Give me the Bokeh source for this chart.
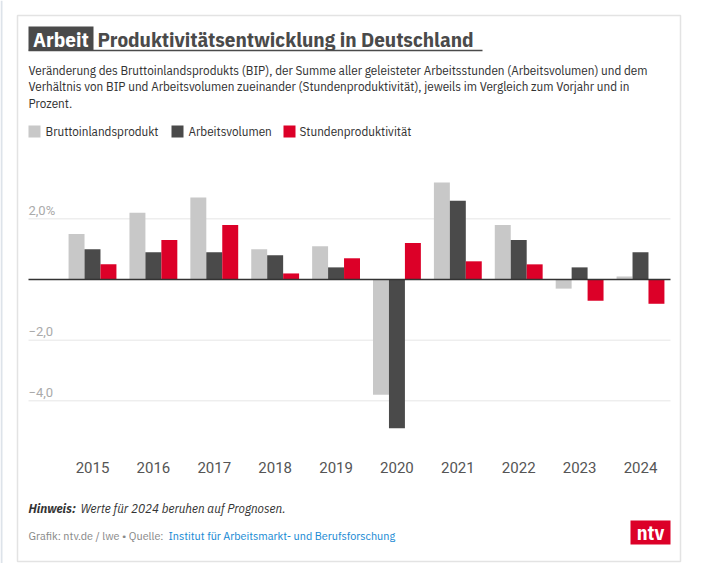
from bokeh.plotting import figure
from bokeh.models import Label, Range1d, ColumnDataSource
from bokeh.transform import dodge
from bokeh.core.properties import value
from bokeh.embed import file_html
from bokeh.resources import INLINE

# ---- data ----
years = [2015, 2016, 2017, 2018, 2019, 2020, 2021, 2022, 2023, 2024]
year_labels = [str(y) for y in years]
bip = [1.5, 2.2, 2.7, 1.0, 1.1, -3.8, 3.2, 1.8, -0.3, 0.1]
arbeitsvolumen = [1.0, 0.9, 0.9, 0.8, 0.4, -4.9, 2.6, 1.3, 0.4, 0.9]
stundenproduktivitaet = [0.5, 1.3, 1.8, 0.2, 0.7, 1.2, 0.6, 0.5, -0.7, -0.8]
tick_values = [2.0, -2.0, -4.0]
tick_labels = ["2,0%", "\u22122,0", "\u22124,0"]
series_names = ["Bruttoinlandsprodukt", "Arbeitsvolumen", "Stundenproduktivität"]
colors = ["#c8c8c8", "#4a4a4a", "#dc0028"]

W, H = 706, 563
COND = "IBM Plex Sans Condensed"

p = figure(width=W, height=H, output_backend="svg", toolbar_location=None,
           x_axis_location=None, y_axis_location=None,
           x_range=Range1d(0, W), y_range=Range1d(H, 0),
           min_border=0, min_border_left=0, min_border_right=0,
           min_border_top=0, min_border_bottom=0)
p.grid.visible = False
p.outline_line_color = None
p.background_fill_color = "white"
p.border_fill_color = "white"

# data ranges mapped onto the same frame
p.extra_x_ranges = {"yr": Range1d(2013.489, 2025.084)}
p.extra_y_ranges = {"pct": Range1d(-9.363, 9.199)}

# ---- frame / box ----
p.quad(left=0, right=2, top=0, bottom=H, fill_color="#dde3ea", line_color=None)
p.quad(left=17, right=680, top=15, bottom=561, fill_color="white",
       line_color="#e3e3e3", line_width=1.5)

# ---- title ----
p.quad(left=28, right=93, top=26, bottom=50, fill_color="#4a4a4a", line_color=None)
p.add_layout(Label(x=32.5, y=38.5, text="Arbeit", text_font=COND, text_font_style="bold",
                   text_font_size="21px", text_color="white", text_baseline="middle"))
p.add_layout(Label(x=97, y=38.5, text="Produktivitätsentwicklung in Deutschland",
                   text_font=COND, text_font_style="bold", text_font_size="21px",
                   text_color="#4a4a4a", text_baseline="middle"))
p.segment(x0=28, x1=482, y0=50, y1=50, line_color="#4a4a4a", line_width=1.5)

sub = ["Veränderung des Bruttoinlandsprodukts (BIP), der Summe aller geleisteter Arbeitsstunden (Arbeitsvolumen) und dem",
       "Verhältnis von BIP und Arbeitsvolumen zueinander (Stundenproduktivität), jeweils im Vergleich zum Vorjahr und in",
       "Prozent."]
for i, s in enumerate(sub):
    p.add_layout(Label(x=28, y=70 + 16.3 * i, text=s, text_font=COND, text_font_size="13px",
                       text_color="#333333", text_baseline="middle"))

# ---- legend ----
leg_sq = [28, 171, 283]
leg_tx = [45, 188, 299]
for sx, tx, name, c in zip(leg_sq, leg_tx, series_names, colors):
    p.quad(left=sx, right=sx + 12, top=125, bottom=137, fill_color=c, line_color=None)
    p.add_layout(Label(x=tx, y=131, text=name, text_font=COND, text_font_size="13px",
                       text_color="#333333", text_baseline="middle"))

# ---- grid & ticks ----
p.segment(x0=[28] * len(tick_values), x1=[670] * len(tick_values), y0=tick_values, y1=tick_values,
          y_range_name="pct", line_color="#e6e6e6", line_width=1)
tsrc = ColumnDataSource(dict(x=[28] * len(tick_values), y=tick_values, t=tick_labels))
p.text(x="x", y=dodge("y", 0.27, range=p.extra_y_ranges["pct"]), text="t", source=tsrc, y_range_name="pct",
       text_font=value("Roboto"), text_font_size="13px", text_color="#aaaaaa",
       text_baseline="middle", text_align="left")

# ---- bars ----
src = ColumnDataSource(dict(year=years, bip=bip, av=arbeitsvolumen, sp=stundenproduktivitaet,
                            lab=year_labels, ly=[467] * len(years)))
bw = 0.262
for off, col, c in zip([-bw, 0.0, bw], ["bip", "av", "sp"], colors):
    p.vbar(x=dodge("year", off), top=col, bottom=0, width=bw, source=src,
           x_range_name="yr", y_range_name="pct", fill_color=c, line_color=None)

# zero line
p.segment(x0=28, x1=670, y0=0, y1=0, y_range_name="pct", line_color="#333333", line_width=1.5)

# year labels
p.text(x="year", y="ly", text="lab", source=src, x_range_name="yr",
       text_font=value("Roboto"), text_font_size="15px", text_color="#555555",
       text_align="center", text_baseline="middle")

# ---- footer ----
p.add_layout(Label(x=28, y=508, text="Hinweis:", text_font=COND, text_font_style="bold italic",
                   text_font_size="13px", text_color="#333333", text_baseline="middle"))
p.add_layout(Label(x=80, y=508, text="Werte für 2024 beruhen auf Prognosen.", text_font=COND,
                   text_font_style="italic", text_font_size="13px", text_color="#333333",
                   text_baseline="middle"))
p.add_layout(Label(x=28, y=534.5, text="Grafik: ntv.de / lwe \u2022 Quelle:", text_font=COND,
                   text_font_size="12px", text_color="#8a8a8a", text_baseline="middle"))
p.add_layout(Label(x=168, y=534.5, text="Institut für Arbeitsmarkt- und Berufsforschung", text_font=COND,
                   text_font_size="12px", text_color="#1a8bd4", text_baseline="middle"))

# logo
p.quad(left=630, right=670, top=520, bottom=544, fill_color="#dc0028", line_color=None)
p.add_layout(Label(x=650, y=532, text="ntv", text_font=COND, text_font_style="bold",
                   text_font_size="20px", text_color="white", text_align="center",
                   text_baseline="middle"))

open("out.html", "w").write(file_html(p, INLINE))
